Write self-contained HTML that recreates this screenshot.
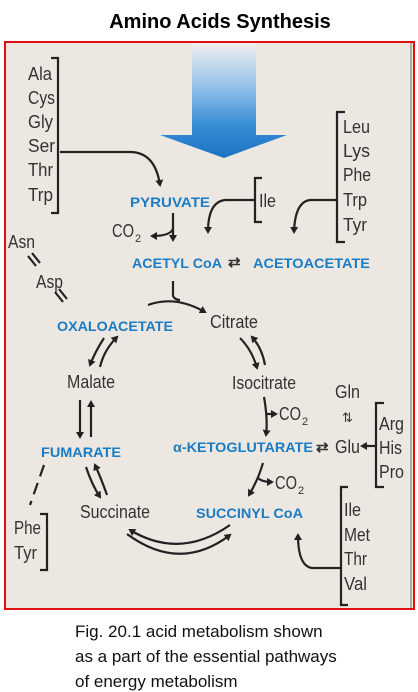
<!DOCTYPE html>
<html><head><meta charset="utf-8"><style>
body{margin:0;background:#fff;width:418px;height:692px;overflow:hidden}
svg{display:block}
.t{font-family:"Liberation Sans",sans-serif;font-size:18px;fill:#333}
.s{font-family:"Liberation Sans",sans-serif;font-size:11px;fill:#333}
.b{font-family:"Liberation Sans",sans-serif;font-size:14px;font-weight:bold;fill:#1a7cc4}
.c{font-family:"Liberation Sans",sans-serif;font-size:17px;fill:#111}
path.a{fill:none;stroke:#222;stroke-width:2.2}
</style></head><body>
<svg width="418" height="692" viewBox="0 0 418 692">
<defs>
<linearGradient id="g" x1="0" y1="0" x2="0" y2="1"><stop offset="0" stop-color="#f0f0f0"/><stop offset="0.35" stop-color="#9cc6ea"/><stop offset="0.7" stop-color="#3a8fd6"/><stop offset="1" stop-color="#1b72c4"/></linearGradient>
<marker id="m" markerWidth="8" markerHeight="8" refX="5" refY="4" orient="auto" markerUnits="userSpaceOnUse"><path d="M0,0 L7,4 L0,8 Z" fill="#222"/></marker>
</defs>
<text x="220" y="28" text-anchor="middle" style="font-family:'Liberation Sans',sans-serif;font-size:20px;font-weight:bold">Amino Acids Synthesis</text>
<rect x="5" y="42" width="409" height="567" fill="#ece7e1" stroke="#e01010" stroke-width="2"/>
<line x1="411" y1="43" x2="411" y2="608" stroke="#999" stroke-width="1.5"/>
<path d="M192,43 H256 V135 H287 L224,158 L160,135 H192 Z" fill="url(#g)"/>
<g class="t">
<text x="28" y="80" textLength="24" lengthAdjust="spacingAndGlyphs">Ala</text>
<text x="28" y="104" textLength="27" lengthAdjust="spacingAndGlyphs">Cys</text>
<text x="28" y="128" textLength="25" lengthAdjust="spacingAndGlyphs">Gly</text>
<text x="28" y="152" textLength="27" lengthAdjust="spacingAndGlyphs">Ser</text>
<text x="28" y="176" textLength="25" lengthAdjust="spacingAndGlyphs">Thr</text>
<text x="28" y="201" textLength="25" lengthAdjust="spacingAndGlyphs">Trp</text>
</g>
<path class="a" d="M51,58 H58 V213 H51"/>
<path class="a" d="M60,152 H130 Q155,152 160,185" marker-end="url(#m)"/>
<text class="b" x="130" y="207" textLength="80" lengthAdjust="spacingAndGlyphs">PYRUVATE</text>
<path class="a" d="M262,178 H255 V222 H262"/>
<text class="t" x="259" y="207" textLength="17" lengthAdjust="spacingAndGlyphs">Ile</text>
<path class="a" d="M255,200 H225 Q208,202 208,232" marker-end="url(#m)"/>
<g class="t">
<text x="343" y="133" textLength="27" lengthAdjust="spacingAndGlyphs">Leu</text>
<text x="343" y="157" textLength="27" lengthAdjust="spacingAndGlyphs">Lys</text>
<text x="343" y="181" textLength="28" lengthAdjust="spacingAndGlyphs">Phe</text>
<text x="343" y="206" textLength="24" lengthAdjust="spacingAndGlyphs">Trp</text>
<text x="343" y="231" textLength="24" lengthAdjust="spacingAndGlyphs">Tyr</text>
</g>
<path class="a" d="M345,112 H337 V242 H345"/>
<path class="a" d="M337,200 H310 Q295,202 294,232" marker-end="url(#m)"/>
<path class="a" d="M173,213 V240" marker-end="url(#m)"/>
<path class="a" d="M173,229 Q170,236 152,236" marker-end="url(#m)"/>
<text class="t" x="112" y="237" textLength="22" lengthAdjust="spacingAndGlyphs">CO</text><text class="s" x="135" y="242">2</text>
<text class="b" x="132" y="268" textLength="90" lengthAdjust="spacingAndGlyphs">ACETYL CoA</text>
<text class="t" x="228" y="267" style="font-size:15px;font-weight:bold">⇄</text>
<text class="b" x="253" y="268" textLength="117" lengthAdjust="spacingAndGlyphs">ACETOACETATE</text>
<text class="t" x="8" y="248" textLength="27" lengthAdjust="spacingAndGlyphs">Asn</text>
<path class="a" d="M28,256 L36,266 M32,253 L40,263" stroke-width="1.5"/>
<text class="t" x="36" y="288" textLength="27" lengthAdjust="spacingAndGlyphs">Asp</text>
<path class="a" d="M55,292 L63,302 M59,289 L67,299" stroke-width="1.5"/>
<text class="b" x="57" y="331" textLength="116" lengthAdjust="spacingAndGlyphs">OXALOACETATE</text>
<path class="a" d="M148,305 Q175,295 205,312" marker-end="url(#m)"/>
<path class="a" d="M173,281 V296 Q175,300 180,300"/>
<text class="t" x="210" y="328" textLength="48" lengthAdjust="spacingAndGlyphs">Citrate</text>
<path class="a" d="M240,338 Q252,350 257,368" marker-end="url(#m)"/>
<path class="a" d="M265,365 Q262,348 252,337" marker-end="url(#m)"/>
<text class="t" x="232" y="389" textLength="64" lengthAdjust="spacingAndGlyphs">Isocitrate</text>
<path class="a" d="M264,397 Q268,420 266,435" marker-end="url(#m)"/>
<path class="a" d="M266,414 H276" marker-end="url(#m)"/>
<text class="t" x="279" y="420" textLength="22" lengthAdjust="spacingAndGlyphs">CO</text><text class="s" x="302" y="425">2</text>
<text class="b" x="173" y="452" textLength="140" lengthAdjust="spacingAndGlyphs">α-KETOGLUTARATE</text>
<text class="t" x="316" y="452" style="font-size:15px;font-weight:bold">⇄</text>
<text class="t" x="335" y="398" textLength="25" lengthAdjust="spacingAndGlyphs">Gln</text>
<text class="t" x="342" y="422" style="font-size:13px">⇅</text>
<text class="t" x="335" y="453" textLength="25" lengthAdjust="spacingAndGlyphs">Glu</text>
<path class="a" d="M375,446 H362" marker-end="url(#m)"/>
<path class="a" d="M384,403 H376 V487 H384"/>
<text class="t" x="379" y="430" textLength="25" lengthAdjust="spacingAndGlyphs">Arg</text>
<text class="t" x="379" y="454" textLength="23" lengthAdjust="spacingAndGlyphs">His</text>
<text class="t" x="379" y="478" textLength="25" lengthAdjust="spacingAndGlyphs">Pro</text>
<path class="a" d="M263,463 Q258,480 249,495" marker-end="url(#m)"/>
<path class="a" d="M258,478 Q262,482 272,482" marker-end="url(#m)"/>
<text class="t" x="275" y="489" textLength="22" lengthAdjust="spacingAndGlyphs">CO</text><text class="s" x="298" y="494">2</text>
<text class="b" x="196" y="518" textLength="107" lengthAdjust="spacingAndGlyphs">SUCCINYL CoA</text>
<path class="a" d="M348,487 H341 V605 H348"/>
<text class="t" x="344" y="516" textLength="17" lengthAdjust="spacingAndGlyphs">Ile</text>
<text class="t" x="344" y="541" textLength="26" lengthAdjust="spacingAndGlyphs">Met</text>
<text class="t" x="344" y="565" textLength="23" lengthAdjust="spacingAndGlyphs">Thr</text>
<text class="t" x="344" y="590" textLength="23" lengthAdjust="spacingAndGlyphs">Val</text>
<path class="a" d="M341,568 H312 Q298,566 298,535" marker-end="url(#m)"/>
<path class="a" d="M230,525 Q180,560 130,530" marker-end="url(#m)"/>
<path class="a" d="M127,534 Q180,573 230,535" marker-end="url(#m)"/>
<text class="t" x="80" y="518" textLength="70" lengthAdjust="spacingAndGlyphs">Succinate</text>
<text class="b" x="41" y="457" textLength="80" lengthAdjust="spacingAndGlyphs">FUMARATE</text>
<path class="a" d="M86,467 Q92,485 100,497" marker-end="url(#m)"/>
<path class="a" d="M107,495 Q101,478 95,465" marker-end="url(#m)"/>
<path class="a" d="M44,465 L30,505" stroke-dasharray="12,7" stroke-width="1.8"/>
<text class="t" x="14" y="534" textLength="27" lengthAdjust="spacingAndGlyphs">Phe</text>
<text class="t" x="14" y="559" textLength="23" lengthAdjust="spacingAndGlyphs">Tyr</text>
<path class="a" d="M40,514 H47 V570 H40"/>
<text class="t" x="67" y="388" textLength="48" lengthAdjust="spacingAndGlyphs">Malate</text>
<path class="a" d="M80,400 V437" marker-end="url(#m)"/>
<path class="a" d="M91,437 V402" marker-end="url(#m)"/>
<path class="a" d="M104,338 Q95,352 90,365" marker-end="url(#m)"/>
<path class="a" d="M100,367 Q104,350 117,337" marker-end="url(#m)"/>
<g class="c">
<text x="75" y="637">Fig. 20.1  acid metabolism shown</text>
<text x="75" y="662">as a part of the essential pathways</text>
<text x="75" y="687">of energy metabolism</text>
</g>
</svg>
</body></html>
